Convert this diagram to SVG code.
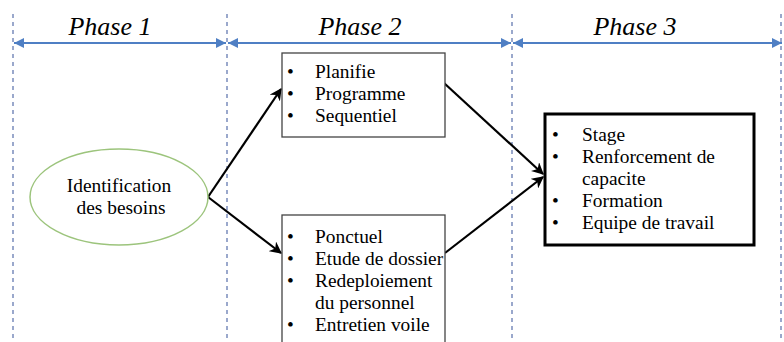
<svg xmlns="http://www.w3.org/2000/svg" width="784" height="342" viewBox="0 0 784 342">
<style>
.t{font-family:"Liberation Serif","Times New Roman",serif;font-size:19.4px;fill:#000}
.ph{font-family:"Liberation Serif","Times New Roman",serif;font-size:26px;font-style:italic;fill:#000}
.dash{stroke:#9aa8cc;stroke-width:2;stroke-dasharray:4,4;fill:none}
.hl{stroke:#4f7fc4;stroke-width:2;fill:none;marker-start:url(#ba);marker-end:url(#ba)}
.box{fill:#fff;stroke:#444;stroke-width:1.3}
.con{stroke:#000;stroke-width:2.2;fill:none;marker-end:url(#ka)}
</style>
<defs>
<marker id="ba" viewBox="0 0 10 10" refX="10" refY="5" markerWidth="5" markerHeight="5" orient="auto-start-reverse" markerUnits="strokeWidth">
<path d="M0,0 L10,5 L0,10 z" fill="#4f7fc4"/>
</marker>
<marker id="ka" viewBox="0 0 10 10" refX="9" refY="5" markerWidth="5.5" markerHeight="5.5" orient="auto" markerUnits="strokeWidth">
<path d="M0,0 L10,5 L0,10 L3,5 z" fill="#000"/>
</marker>
</defs>
<rect width="784" height="342" fill="#fff"/>
<g id="phases" font-family="Liberation Serif, serif">
<line class="dash" x1="13" y1="14" x2="13" y2="342"/>
<line class="dash" x1="227" y1="14" x2="227" y2="342"/>
<line class="dash" x1="512" y1="14" x2="512" y2="342"/>
<line class="dash" x1="781" y1="14" x2="781" y2="342"/>
<line class="hl" x1="14" y1="43" x2="226" y2="43"/>
<line class="hl" x1="228" y1="43" x2="511" y2="43"/>
<line class="hl" x1="513" y1="43" x2="782" y2="43"/>
<text class="ph" x="110" y="35" text-anchor="middle">Phase 1</text>
<text class="ph" x="360" y="35" text-anchor="middle">Phase 2</text>
<text class="ph" x="635" y="35" text-anchor="middle">Phase 3</text>
</g>
<g id="connectors">
<line class="con" x1="208" y1="197" x2="281" y2="89"/>
<line class="con" x1="208" y1="197" x2="281" y2="253"/>
<line class="con" x1="444" y1="83" x2="543" y2="174"/>
<line class="con" x1="445" y1="253" x2="543" y2="177"/>
</g>
<g id="identification" font-family="Liberation Serif, serif">
<ellipse cx="119" cy="197" rx="89" ry="48" fill="#fff" stroke="#9cc47c" stroke-width="1.5"/>
<text class="t" x="119" y="192" text-anchor="middle">Identification</text>
<text class="t" x="121" y="214" text-anchor="middle">des besoins</text>
</g>
<g id="box1" font-family="Liberation Serif, serif">
<rect class="box" x="282" y="53" width="163" height="84"/>
<text class="t" x="287" y="78">•</text><text class="t" x="315" y="78">Planifie</text>
<text class="t" x="287" y="100">•</text><text class="t" x="315" y="100">Programme</text>
<text class="t" x="287" y="122">•</text><text class="t" x="315" y="122">Sequentiel</text>
</g>
<g id="box2" font-family="Liberation Serif, serif">
<rect class="box" x="282" y="215" width="163" height="140"/>
<text class="t" x="287" y="243">•</text><text class="t" x="315" y="243">Ponctuel</text>
<text class="t" x="287" y="265">•</text><text class="t" x="315" y="265">Etude de dossier</text>
<text class="t" x="287" y="287">•</text><text class="t" x="315" y="287">Redeploiement</text>
<text class="t" x="315" y="309">du personnel</text>
<text class="t" x="287" y="331">•</text><text class="t" x="315" y="331">Entretien voile</text>
</g>
<g id="box3" font-family="Liberation Serif, serif">
<rect x="545" y="114" width="209" height="131" fill="#fff" stroke="#000" stroke-width="3"/>
<text class="t" x="552" y="141">•</text><text class="t" x="582" y="141">Stage</text>
<text class="t" x="552" y="163">•</text><text class="t" x="582" y="163">Renforcement de</text>
<text class="t" x="582" y="185">capacite</text>
<text class="t" x="552" y="207">•</text><text class="t" x="582" y="207">Formation</text>
<text class="t" x="552" y="229">•</text><text class="t" x="582" y="229">Equipe de travail</text>
</g>
</svg>
